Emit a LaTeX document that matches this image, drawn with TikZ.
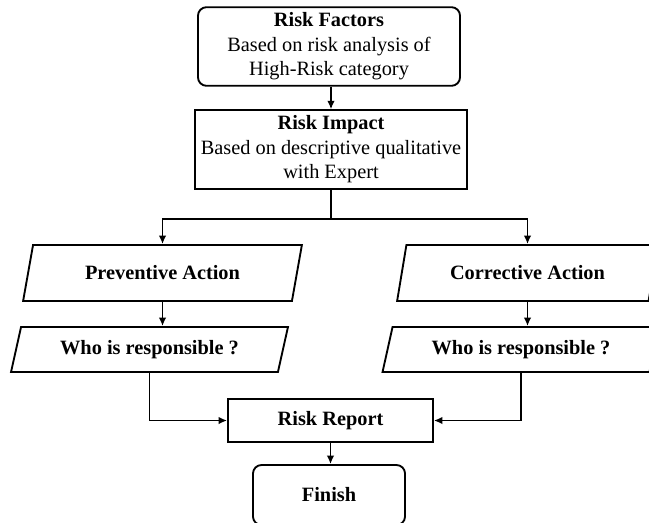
\documentclass[tikz,border=0pt]{standalone}
\usepackage{fontspec}
\setmainfont{Liberation Serif}
\usepackage{tikz}
\usetikzlibrary{shapes.geometric,arrows.meta}

\newcommand{\px}{0.59pt}

\begin{document}
\begin{tikzpicture}[x=\px, y=-\px, >={Latex[length=5pt,width=4.5pt]}, line width=1.1pt,
   font=\fontsize{12}{14.4}\selectfont,
   terminal/.style={rectangle, rounded corners=5pt, draw, align=center},
   process/.style={rectangle, draw, align=center},
   datain/.style={trapezium, trapezium left angle=76, trapezium right angle=104,
      trapezium stretches=true, draw, align=center, font=\fontsize{12}{14.4}\selectfont\bfseries}]
   \useasboundingbox (0,0) rectangle (649,522);
   \clip (0,0) rectangle (649,522);

   \node [terminal, minimum width=262*\px, minimum height=77*\px] (factors) at (329,46.5)
      {\textbf{Risk Factors}\\Based on risk analysis of\\High-Risk category};
   \node [process, minimum width=267*\px, minimum height=77*\px] (impact) at (331,149.5)
      {\textbf{Risk Impact}\\Based on descriptive qualitative\\with Expert};
   \node [datain, minimum width=279*\px, minimum height=56*\px] (prevent) at (162.5,273) {Preventive Action};
   \node [datain, minimum width=261*\px, minimum height=56*\px] (correct) at (527.5,273) {Corrective Action};
   \node [datain, minimum width=277*\px, minimum height=45*\px] (whoL) at (149.5,349.5) {Who is responsible ?};
   \node [datain, minimum width=277*\px, minimum height=45*\px] (whoR) at (521,349.5) {Who is responsible ?};
   \node [process, font=\fontsize{12}{14.4}\selectfont\bfseries, minimum width=205*\px, minimum height=43*\px] (report) at (330.5,420.5) {Risk Report};
   \node [terminal, font=\fontsize{12}{14.4}\selectfont\bfseries, minimum width=152*\px, minimum height=60*\px] (finish) at (329,495) {Finish};

   \draw [->] (factors.south -| impact.north) -- (impact.north);
   \draw (impact.south) -- ++(0,29) coordinate (split);
   \draw [->] (split) -| (prevent.north);
   \draw [->] (split) -| (correct.north);
   \draw [->] (prevent.south) -- (prevent.south |- whoL.north);
   \draw [->] (correct.south) -- (correct.south |- whoR.north);
   \draw [->] (whoL.south) |- (report.west);
   \draw [->] (whoR.south) |- (report.east);
   \draw [->] (report.south) -- (report.south |- finish.north);
\end{tikzpicture}
\end{document}
